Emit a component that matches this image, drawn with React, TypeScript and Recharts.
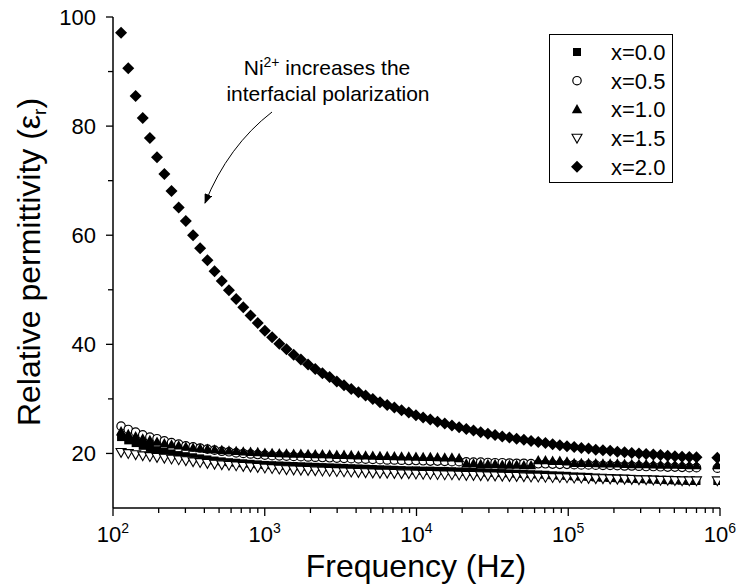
import React from 'react';
import { ScatterChart, Scatter, XAxis, YAxis, Legend } from 'recharts';

const FONT = '"Liberation Sans", Arial, Helvetica, sans-serif';

// measurement frequencies (Hz)
const FREQ = [
  113, 126, 141, 157, 175, 195, 218, 243, 271, 302,
  337, 375, 419, 467, 521, 581, 648, 722, 806, 899,
  1002, 1118, 1247, 1391, 1551, 1730, 1929, 2152, 2400, 2677,
  2985, 3330, 3714, 4142, 4619, 5152, 5746, 6409, 7148, 7972,
  8892, 9917, 11061, 12337, 13759, 15346, 17115, 19089, 21291, 23746,
  26485, 29540, 32946, 36746, 40984, 45709, 50981, 56861, 63419, 70733,
  78886, 87981, 98130, 109400, 122000, 136100, 151800, 169300, 188900, 210700,
  235000, 262100, 292300, 326000, 363600, 405500, 452300, 504500, 562600, 627500,
  699800, 960000,
];

const EPS_X00 = [
  23.0, 22.4, 21.9, 21.4, 21.0, 20.6, 20.3, 20.0, 19.7, 19.5,
  19.3, 19.1, 18.9, 18.7, 18.55, 18.4, 18.3, 18.2, 18.1, 18.0,
  17.9, 17.85, 17.8, 17.75, 17.7, 17.65, 17.6, 17.55, 17.5, 17.45,
  17.4, 17.35, 17.3, 17.25, 17.2, 17.15, 17.1, 17.05, 17.0, 16.95,
  16.9, 16.9, 16.85, 16.85, 16.8, 16.8, 16.75, 16.7, 16.65, 16.6,
  16.55, 16.5, 16.45, 16.4, 16.35, 16.3, 16.25, 16.2, 16.15, 16.1,
  16.0, 15.95, 15.9, 15.8, 15.75, 15.7, 15.6, 15.55, 15.5, 15.45,
  15.4, 15.35, 15.3, 15.25, 15.2, 15.15, 15.1, 15.05, 15.0, 14.95,
  14.95, 14.95,
];

const EPS_X05 = [
  25.0, 24.4, 23.9, 23.4, 23.0, 22.7, 22.3, 22.0, 21.7, 21.4,
  21.2, 21.0, 20.8, 20.6, 20.4, 20.3, 20.1, 20.0, 19.9, 19.8,
  19.7, 19.6, 19.55, 19.5, 19.45, 19.4, 19.35, 19.3, 19.25, 19.2,
  19.15, 19.1, 19.05, 19.0, 18.95, 18.9, 18.85, 18.8, 18.8, 18.75,
  18.7, 18.7, 18.65, 18.6, 18.6, 18.55, 18.5, 18.5, 18.45, 18.4,
  18.4, 18.35, 18.3, 18.3, 18.25, 18.2, 18.2, 18.15, 18.1, 18.1,
  18.05, 18.0, 18.0, 17.95, 17.9, 17.9, 17.85, 17.8, 17.8, 17.75,
  17.7, 17.7, 17.65, 17.6, 17.6, 17.55, 17.5, 17.5, 17.45, 17.4,
  17.4, 17.3,
];

const EPS_X10 = [
  24.0, 23.5, 23.1, 22.7, 22.4, 22.1, 21.8, 21.6, 21.4, 21.2,
  21.0, 20.9, 20.8, 20.7, 20.6, 20.5, 20.4, 20.3, 20.25, 20.2,
  20.1, 20.05, 20.0, 19.95, 19.9, 19.9, 19.85, 19.8, 19.8, 19.75,
  19.7, 19.7, 19.65, 19.6, 19.6, 19.55, 19.5, 19.5, 19.45, 19.4,
  19.4, 19.35, 19.3, 19.3, 19.25, 19.2, 19.2, 19.1, 18.1, 18.1,
  18.0, 18.0, 18.0, 17.9, 17.9, 17.9, 17.8, 17.8, 18.7, 18.7,
  18.6, 18.6, 18.5, 18.2, 18.2, 18.2, 18.15, 18.1, 18.1, 18.1,
  18.05, 18.0, 18.0, 18.0, 17.95, 17.9, 17.9, 17.9, 17.85, 17.8,
  17.8, 17.8,
];

const EPS_X15 = [
  20.2, 20.0, 19.8, 19.6, 19.45, 19.3, 19.15, 19.0, 18.85, 18.7,
  18.5, 18.35, 18.2, 18.05, 17.95, 17.85, 17.75, 17.65, 17.55, 17.45,
  17.35, 17.25, 17.15, 17.05, 17.0, 16.95, 16.9, 16.85, 16.8, 16.75,
  16.7, 16.65, 16.6, 16.55, 16.5, 16.45, 16.4, 16.4, 16.35, 16.3,
  16.3, 16.25, 16.2, 16.2, 16.15, 16.1, 16.1, 16.05, 16.0, 16.0,
  15.95, 15.9, 15.9, 15.85, 15.8, 15.8, 15.75, 15.7, 15.7, 15.65,
  15.6, 15.6, 15.55, 15.5, 15.5, 15.45, 15.4, 15.4, 15.35, 15.3,
  15.3, 15.25, 15.2, 15.2, 15.15, 15.1, 15.1, 15.05, 15.0, 15.0,
  15.0, 15.0,
];

const EPS_X20 = [
  97.1, 90.6, 85.5, 81.5, 77.8, 74.3, 71.2, 68.1, 65.1, 62.6,
  60.0, 57.6, 55.4, 53.4, 51.6, 49.9, 48.3, 46.8, 45.3, 43.9,
  42.5, 41.3, 40.1, 39.1, 38.1, 37.2, 36.3, 35.5, 34.7, 34.0,
  33.2, 32.5, 31.8, 31.2, 30.6, 30.0, 29.4, 28.9, 28.4, 27.9,
  27.5, 27.0, 26.6, 26.2, 25.8, 25.5, 25.1, 24.8, 24.5, 24.2,
  23.9, 23.6, 23.4, 23.1, 22.9, 22.7, 22.5, 22.3, 22.1, 21.9,
  21.7, 21.5, 21.3, 21.2, 21.0, 20.9, 20.7, 20.6, 20.5, 20.3,
  20.2, 20.1, 20.0, 19.9, 19.8, 19.7, 19.6, 19.5, 19.4, 19.35,
  19.3, 19.2,
];

const SERIES = [
  { name: 'x=0.0', kind: 'square', values: EPS_X00 },
  { name: 'x=0.5', kind: 'circle', values: EPS_X05 },
  { name: 'x=1.0', kind: 'up', values: EPS_X10 },
  { name: 'x=1.5', kind: 'down', values: EPS_X15 },
  { name: 'x=2.0', kind: 'diamond', values: EPS_X20 },
];

const X_MAJOR = [1e2, 1e3, 1e4, 1e5, 1e6];
const X_MINOR_STEPS = [2, 3, 4, 5, 6, 7, 8, 9];
const X_TICKS = [
  ...X_MAJOR,
  ...X_MAJOR.slice(0, -1).flatMap((d) => X_MINOR_STEPS.map((m) => d * m)),
].sort((a, b) => a - b);

const Y_MAJOR = [20, 40, 60, 80, 100];
const Y_TICKS = [20, 30, 40, 50, 60, 70, 80, 90, 100];

const isMajorX = (v: number) => Math.abs(Math.log10(v) - Math.round(Math.log10(v))) < 1e-9;

const Marker = ({ cx, cy, kind }: { cx: number; cy: number; kind: string }) => {
  if (cx == null || cy == null) return null;
  switch (kind) {
    case 'square':
      return <rect x={cx - 4} y={cy - 4} width={8} height={8} fill="#000" />;
    case 'circle':
      return <circle cx={cx} cy={cy} r={4.2} fill="#fff" stroke="#000" strokeWidth={1.2} />;
    case 'up':
      return <polygon points={`${cx},${cy - 5.5} ${cx - 5.2},${cy + 3.8} ${cx + 5.2},${cy + 3.8}`} fill="#000" />;
    case 'down':
      return (
        <polygon
          points={`${cx - 5},${cy - 3.8} ${cx + 5},${cy - 3.8} ${cx},${cy + 5}`}
          fill="#fff"
          stroke="#000"
          strokeWidth={1.1}
        />
      );
    default:
      return <polygon points={`${cx},${cy - 6} ${cx + 6},${cy} ${cx},${cy + 6} ${cx - 6},${cy}`} fill="#000" />;
  }
};

const BottomTick = ({ x, y, payload }: any) => {
  const v = payload.value;
  const major = isMajorX(v);
  return (
    <g>
      <line x1={x} x2={x} y1={y} y2={y + (major ? 8 : 5)} stroke="#000" strokeWidth={1.3} />
      {major && (
        <text x={x} y={y + 34} textAnchor="middle" fontSize={22} fontFamily={FONT} fill="#000">
          10
          <tspan dy={-9} fontSize={14}>
            {Math.round(Math.log10(v))}
          </tspan>
        </text>
      )}
    </g>
  );
};

const TopTick = ({ x, y, payload }: any) => {
  const major = isMajorX(payload.value);
  return <line x1={x} x2={x} y1={y} y2={y + (major ? 8 : 5)} stroke="#000" strokeWidth={1.3} />;
};

const LeftTick = ({ x, y, payload }: any) => {
  const major = Y_MAJOR.includes(payload.value);
  return (
    <g>
      <line x1={x - (major ? 7 : 5)} x2={x} y1={y} y2={y} stroke="#000" strokeWidth={1.3} />
      {major && (
        <text x={x - 17} y={y + 8} textAnchor="end" fontSize={22} fontFamily={FONT} fill="#000">
          {payload.value}
        </text>
      )}
    </g>
  );
};

const RightTick = ({ x, y, payload }: any) => {
  const major = Y_MAJOR.includes(payload.value);
  return <line x1={x - (major ? 7 : 5)} x2={x} y1={y} y2={y} stroke="#000" strokeWidth={1.3} />;
};

const LegendBox = () => (
  <svg width={124} height={149} style={{ display: 'block' }}>
    <rect x={0.5} y={0.5} width={123} height={148} fill="#fff" stroke="#000" strokeWidth={1} />
    {SERIES.map((s, i) => {
      const cy = 18 + i * 28.7;
      return (
        <g key={s.name}>
          <Marker cx={28} cy={cy} kind={s.kind} />
          <text x={62} y={cy + 8} fontSize={22} fontFamily={FONT} fill="#000">
            {s.name}
          </text>
        </g>
      );
    })}
  </svg>
);

export default function App() {
  const axisLine = { stroke: '#000', strokeWidth: 1.5 };
  return (
    <div style={{ position: 'absolute', left: 0, top: 0, width: 738, height: 586, background: '#fff' }}>
      <ScatterChart width={738} height={586} margin={{ top: 17, right: 18, bottom: 0, left: 0 }}>
        <XAxis
          dataKey="f"
          type="number"
          scale="log"
          domain={[100, 1e6]}
          allowDataOverflow
          ticks={X_TICKS}
          interval={0}
          height={78}
          tickSize={0}
          tickMargin={0}
          tickLine={false}
          axisLine={axisLine}
          tick={<BottomTick />}
        />
        <XAxis
          xAxisId="top"
          orientation="top"
          dataKey="f"
          type="number"
          scale="log"
          domain={[100, 1e6]}
          allowDataOverflow
          ticks={X_TICKS}
          interval={0}
          height={0}
          tickSize={0}
          tickMargin={0}
          tickLine={false}
          axisLine={axisLine}
          tick={<TopTick />}
        />
        <YAxis
          dataKey="v"
          type="number"
          domain={[10, 100]}
          allowDataOverflow
          ticks={Y_TICKS}
          interval={0}
          width={113}
          tickSize={0}
          tickMargin={0}
          tickLine={false}
          axisLine={axisLine}
          tick={<LeftTick />}
        />
        <YAxis
          yAxisId="right"
          orientation="right"
          dataKey="v"
          type="number"
          domain={[10, 100]}
          allowDataOverflow
          ticks={Y_TICKS}
          interval={0}
          width={0}
          tickSize={0}
          tickMargin={0}
          tickLine={false}
          axisLine={axisLine}
          tick={<RightTick />}
        />
        {SERIES.map((s) => (
          <Scatter
            key={s.name}
            name={s.name}
            data={FREQ.map((f, i) => ({ f, v: s.values[i] }))}
            isAnimationActive={false}
            shape={(p: any) => <Marker cx={p.cx} cy={p.cy} kind={s.kind} />}
          />
        ))}
        <Legend
          layout="vertical"
          align="center"
          verticalAlign="middle"
          content={() => <LegendBox />}
          wrapperStyle={{ left: 549, top: 34, width: 124, height: 149 }}
        />
      </ScatterChart>
      <svg
        width={738}
        height={586}
        style={{ position: 'absolute', left: 0, top: 0, pointerEvents: 'none' }}
        fontFamily={FONT}
      >
        <defs>
          <marker id="arrowhead" markerWidth={10} markerHeight={8} refX={9} refY={4} orient="auto" markerUnits="userSpaceOnUse">
            <path d="M0,0 L10,4 L0,8 z" fill="#000" />
          </marker>
        </defs>
        <text x={327} y={75} textAnchor="middle" fontSize={21} fill="#000">
          Ni<tspan dy={-8} fontSize={14}>2+</tspan>
          <tspan dy={8}> increases the</tspan>
        </text>
        <text x={328} y={101} textAnchor="middle" fontSize={21} fill="#000">
          interfacial polarization
        </text>
        <path d="M272,112 Q228,146 205,203" fill="none" stroke="#000" strokeWidth={1} markerEnd="url(#arrowhead)" />
        <text x={416} y={577} textAnchor="middle" fontSize={32} fill="#000">
          Frequency (Hz)
        </text>
        <text transform="translate(40,262) rotate(-90)" textAnchor="middle" fontSize={32} fill="#000">
          Relative permittivity (ε<tspan dy={6} fontSize={19}>r</tspan>
          <tspan dy={-6}>)</tspan>
        </text>
      </svg>
    </div>
  );
}
